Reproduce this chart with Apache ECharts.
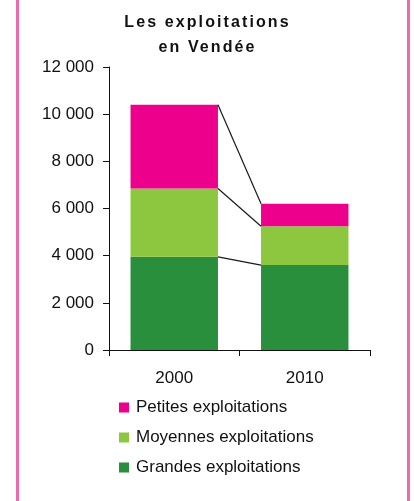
<!DOCTYPE html>
<html lang="fr">
<head>
<meta charset="utf-8">
<title>Les exploitations en Vendée</title>
<script src="https://cdn.jsdelivr.net/npm/echarts@6/dist/echarts.min.js"></script>
<style>
  html, body { margin: 0; padding: 0; background: #ffffff; }
  #wrap { position: relative; width: 414px; height: 501px; overflow: hidden; }
  #chart { position: absolute; left: 0; top: 0; width: 414px; height: 501px; }
  #frame {
    position: absolute; left: 16px; top: -5px; width: 388px; height: 520px;
    border-left: 3px solid #ef6aa9; border-right: 3px solid #ef6aa9;
    pointer-events: none;
  }
  #title {
    position: absolute; left: 0; top: 9px; width: 414px; text-align: center;
    font: bold 16px "Liberation Sans", Arial, sans-serif; letter-spacing: 2.1px;
    line-height: 25px; color: #111; padding-left: 1px; box-sizing: border-box;
  }
</style>
</head>
<body>
<div id="wrap">
  <div id="chart"></div>
  <div id="title">Les exploitations<br>en Vendée</div>
  <div id="frame"></div>
</div>
<script>
const years = ["2000", "2010"]
const grandes = [3950, 3600]
const moyennes = [2900, 1650]
const petites = [3550, 950]
const yTicks = [0, 2000, 4000, 6000, 8000, 10000, 12000]

const seriesNames = ["Grandes exploitations", "Moyennes exploitations", "Petites exploitations"]
const colors = ["#2a8f3c", "#8dc63f", "#ec008c"]
const BAR_RATIO = 0.67

// stacked boundaries per year, used by the connector lines
const layers = [grandes, moyennes, petites]
const cumulative = layers.map((_, i) =>
  years.map((_, y) => layers.slice(0, i + 1).reduce((s, l) => s + l[y], 0))
)
const connectors = cumulative.map((c) => [0, c[0], 1, c[1]])

const formatThousands = (v) =>
  String(v).replace(/\B(?=(\d{3})+(?!\d))/g, " ")

const chart = echarts.init(document.getElementById("chart"), null, { renderer: "canvas" })

chart.setOption({
  animation: false,
  textStyle: { fontFamily: "Liberation Sans, Arial, sans-serif", color: "#111" },
  grid: { left: 109, right: 44, top: 67, bottom: 151, containLabel: false },
  legend: {
    orient: "vertical",
    left: 114,
    top: 394,
    itemWidth: 10,
    itemHeight: 10,
    itemGap: 13,
    icon: "rect",
    data: ["Petites exploitations", "Moyennes exploitations", "Grandes exploitations"],
    textStyle: { fontSize: 17, color: "#111", padding: [0, 0, 0, 2] },
  },
  xAxis: {
    type: "category",
    data: years,
    axisLine: { lineStyle: { color: "#111", width: 1 } },
    axisTick: { show: true, length: 6, lineStyle: { color: "#111" } },
    axisLabel: { fontSize: 17, color: "#111", margin: 20 },
  },
  yAxis: {
    type: "value",
    min: yTicks[0],
    max: yTicks[yTicks.length - 1],
    interval: yTicks[1] - yTicks[0],
    axisLine: { show: true, lineStyle: { color: "#111", width: 1 } },
    axisTick: { show: true, length: 6, lineStyle: { color: "#111" } },
    axisLabel: { fontSize: 17, color: "#111", margin: 15, formatter: formatThousands },
    splitLine: { show: false },
  },
  series: [
    ...layers.map((values, i) => ({
      name: seriesNames[i],
      type: "bar",
      stack: "total",
      barWidth: BAR_RATIO * 100 + "%",
      data: values,
      itemStyle: { color: colors[i] },
    })),
    {
      type: "custom",
      silent: true,
      encode: { x: [0, 2], y: [1, 3] },
      data: connectors,
      z: 5,
      renderItem: (params, api) => {
        const a = api.coord([api.value(0), api.value(1)])
        const b = api.coord([api.value(2), api.value(3)])
        const half = (api.size([1, 0])[0] * BAR_RATIO) / 2
        return {
          type: "line",
          shape: { x1: a[0] + half, y1: a[1], x2: b[0] - half, y2: b[1] },
          style: { stroke: "#1a1a1a", lineWidth: 1.2 },
        }
      },
    },
  ],
})
</script>
</body>
</html>
